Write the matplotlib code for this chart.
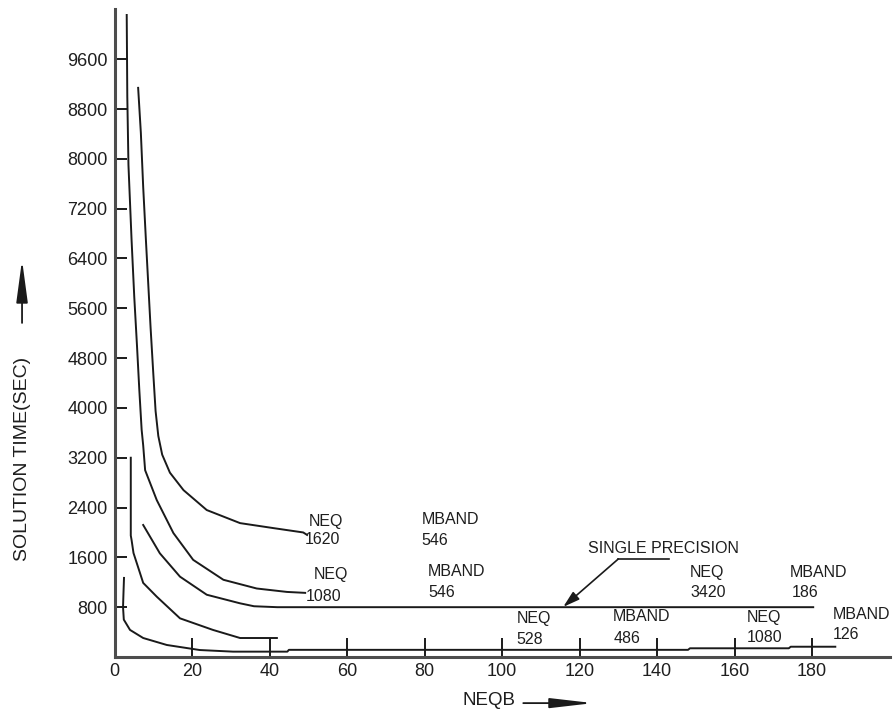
import matplotlib.pyplot as plt

plt.rcParams['font.family'] = ['Liberation Sans', 'DejaVu Sans']

# curves (NEQB vs solution time in sec)
a_x = [3.15, 3.3, 3.6, 4.4, 5.1, 5.8, 6.4, 7.0, 7.4, 7.9, 10.9, 15.2, 20.3, 28.1, 36.7, 44.5, 49.2]
a_y = [10310, 9000, 7900, 6700, 5780, 5000, 4290, 3650, 3400, 3000, 2520, 1990, 1560, 1240, 1100, 1045, 1030]

b_x = [6.1, 6.8, 7.4, 8.1, 8.7, 9.3, 10.0, 10.6, 11.3, 12.3, 14.3, 17.8, 23.8, 32.4, 41.0, 48.7, 49.7]
b_y = [9140, 8415, 7550, 6700, 6000, 5300, 4560, 3950, 3550, 3250, 2960, 2680, 2360, 2150, 2070, 2000, 1960]

c_x = [7.4, 11.7, 16.9, 23.8, 32.4, 36.0, 42.0, 180.3]
c_y = [2120, 1665, 1290, 1000, 862, 815, 800, 800]

d_x = [4.2, 4.2, 4.4, 4.9, 6.6, 7.4, 10.9, 16.9, 25.4, 32.4, 41.9]
d_y = [3200, 1950, 1880, 1670, 1344, 1190, 969, 621, 435, 305, 305]

e_x = [2.45, 2.3, 2.2, 2.4, 4.0, 7.4, 13.5, 22, 30.6, 44.6, 45, 148, 148.5, 174, 174.5, 186]
e_y = [1270, 1000, 800, 600, 435, 305, 193, 112, 86, 86, 115, 115, 140, 140, 165, 165]

x_ticks = [0, 20, 40, 60, 80, 100, 120, 140, 160, 180]
y_ticks = [800, 1600, 2400, 3200, 4000, 4800, 5600, 6400, 7200, 8000, 8800, 9600]

line_col = '#1a1a1a'
txt_col = '#1e1e1e'

fig = plt.figure(figsize=(8.96, 7.16), dpi=100)
ax = fig.add_axes([0.1278, 0.0824, 0.865, 0.9045])

for xs, ys in [(a_x, a_y), (b_x, b_y), (c_x, c_y), (d_x, d_y), (e_x, e_y)]:
    ax.plot(xs, ys, color=line_col, lw=1.4, solid_joinstyle='round')

ax.set_xlim(0, 200)
ax.set_ylim(0, 10400)
for s in ['top', 'right']:
    ax.spines[s].set_visible(False)
for s in ['left', 'bottom']:
    ax.spines[s].set_linewidth(2.2)
    ax.spines[s].set_color('#4d4d4d')

ax.set_xticks(x_ticks)
ax.set_yticks(y_ticks)
ax.tick_params(axis='x', direction='in', length=13.5, width=1.4, pad=4,
               labelsize=13, colors=line_col, labelcolor=txt_col)
ax.tick_params(axis='y', direction='in', length=8.5, width=1.4, pad=5,
               labelsize=13, colors=line_col, labelcolor=txt_col)

# curve labels
fs = 11.5
labels = [
    (50.2, 2184, 'NEQ'), (49.2, 1879, '1620'),
    (79.3, 2208, 'MBAND'), (79.3, 1863, '546'),
    (51.5, 1325, 'NEQ'), (49.4, 972, '1080'),
    (80.9, 1381, 'MBAND'), (80.9, 1036, '546'),
    (148.5, 1365, 'NEQ'), (148.5, 1036, '3420'),
    (174.3, 1365, 'MBAND'), (174.8, 1036, '186'),
    (103.8, 626, 'NEQ'), (103.8, 289, '528'),
    (128.7, 647, 'MBAND'), (128.7, 305, '486'),
    (163.1, 642, 'NEQ'), (163.1, 308, '1080'),
    (185.4, 679, 'MBAND'), (185.4, 369, '126'),
]
for x, y, t in labels:
    ax.text(x, y, t, fontsize=fs, color=txt_col, ha='left', va='center')

ax.text(122.2, 1742, 'SINGLE PRECISION', fontsize=fs, color=txt_col,
        ha='left', va='center')
ax.plot([130.0, 143.2], [1574, 1574], color=line_col, lw=1.2)
ax.annotate('', xy=(115.8, 805), xytext=(130.0, 1574),
            arrowprops=dict(arrowstyle='-|>,head_length=1.0,head_width=0.3',
                            color=line_col, lw=1.2, shrinkA=0, shrinkB=0,
                            mutation_scale=10))

# axis titles with their arrows
fig.text(0.0246, 0.3596, 'SOLUTION TIME(SEC)', rotation=90, fontsize=14,
         color=txt_col, ha='center', va='center')
ax.annotate('', xy=(0.0246, 0.637), xytext=(0.0246, 0.549),
            xycoords='figure fraction', textcoords='figure fraction',
            arrowprops=dict(arrowstyle='-|>,head_length=2.6,head_width=0.35',
                            color=line_col, lw=1.3, shrinkA=0, shrinkB=0,
                            mutation_scale=10))

fig.text(0.5167, 0.021, 'NEQB', fontsize=13.5, color=txt_col,
         ha='left', va='center')
ax.annotate('', xy=(0.662, 0.018), xytext=(0.584, 0.018),
            xycoords='figure fraction', textcoords='figure fraction',
            arrowprops=dict(arrowstyle='-|>,head_length=2.6,head_width=0.3',
                            color=line_col, lw=1.3, shrinkA=0, shrinkB=0,
                            mutation_scale=10))

fig.savefig('out.png', dpi=100)
